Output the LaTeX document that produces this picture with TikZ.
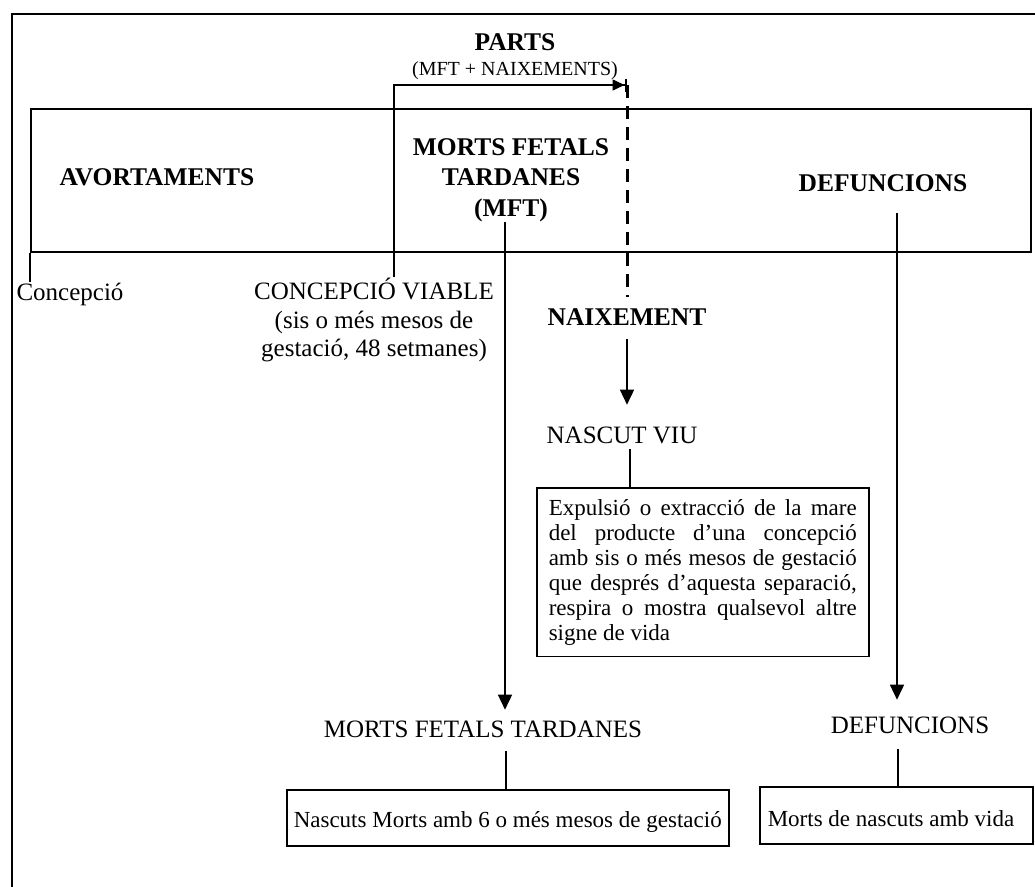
\documentclass[tikz,border=0pt]{standalone}
\usepackage{fontspec}
\setmainfont{Liberation Serif}
\usetikzlibrary{arrows.meta}
\newcommand\justline[1]{\makebox[308pt][s]{\spaceskip=\fontdimen2\font plus 1fil\relax #1}}
\newcommand\plainline[2]{\makebox[#1][l]{\spaceskip=\fontdimen2\font\relax #2}}
\begin{document}
\begin{tikzpicture}[x=1pt,y=-1pt,line width=1.5pt,
  lbl/.style={inner sep=0pt,font=\fontsize{25}{28.5}\selectfont},
  blbl/.style={inner sep=0pt,font=\fontsize{25.5}{30.5}\selectfont\bfseries},
  smalllbl/.style={inner sep=0pt,font=\fontsize{20}{24}\selectfont},
  boxtxt/.style={draw,font=\fontsize{23}{25}\selectfont},
  arr/.style={-{Triangle[length=15pt,width=14pt]}},
  partsarr/.style={-{Triangle[length=12pt,width=11pt,sep=0pt]Bar[width=13pt,line width=2.5pt]}},
  dashline/.style={line width=3pt,dash pattern=on 13pt off 8pt},
]
\useasboundingbox (0,0) rectangle (1035,886);
% outer frame
\coordinate (frameBL) at (12,890);
\coordinate (frameTL) at (12,14);
\coordinate (frameTR) at (1040,14);
\draw (frameBL) -- (frameTL) -- (frameTR);
% band
\node[draw,minimum width=1000pt,minimum height=143pt,inner sep=0pt,anchor=north west] (band) at (30,108) {};
% labels
\node[blbl,anchor=base] (avort) at (157,185) {AVORTAMENTS};
\node[blbl,anchor=base] (parts) at (515,50) {PARTS};
\node[smalllbl,anchor=base] (partsub) at (515,75) {(MFT + NAIXEMENTS)};
\node[blbl,align=center] (mft) at (511,180) {MORTS FETALS\\TARDANES\\(MFT)};
\node[blbl,anchor=base] (defun) at (883,191) {DEFUNCIONS};
\node[lbl,anchor=base] (concep) at (70,300) {Concepció};
\node[lbl,align=center] (cviab) at (374,320) {CONCEPCIÓ VIABLE\\(sis o més mesos de\\gestació, 48 setmanes)};
\node[blbl,anchor=base] (naix) at (627,325) {NAIXEMENT};
\node[lbl,anchor=base] (nascut) at (622,443) {NASCUT VIU};
\node[lbl,anchor=base] (mftlow) at (483,737) {MORTS FETALS TARDANES};
\node[lbl,anchor=base] (defunlow) at (910,733) {DEFUNCIONS};
% boxes
\node[boxtxt,anchor=north west,inner xsep=12pt,inner ysep=11.5pt,text width=308pt,align=left] (defbox) at (536,487)
 {\justline{Expulsió o extracció de la mare}\\
  \justline{del producte d’una concepció}\\
  \justline{amb sis o més mesos de gestació}\\
  \justline{que després d’aquesta separació,}\\
  \justline{respira o mostra qualsevol altre}\\
  \plainline{308pt}{signe de vida}};
\node[boxtxt,anchor=north west,minimum width=442pt,minimum height=56pt,inner xsep=7pt,text height=20pt,text depth=0pt] (nmbox) at (286,789) {Nascuts Morts amb 6 o més mesos de gestació};
\node[boxtxt,anchor=north west,minimum width=273pt,minimum height=57pt,inner xsep=8pt,text height=23pt,text depth=0pt] (nvbox) at (759,786) {\plainline{257pt}{Morts de nascuts amb vida}};
% connectors
\coordinate (partsend) at (627,85);
\draw (band.south west) -- (band.south west |- concep.north);
\draw[partsarr] ([xshift=20pt]cviab.north) |- (partsend);
\draw[dashline,shorten >=10pt] (partsend) -- (naix.north);
\draw[arr,shorten <=13pt,shorten >=21pt] (naix.south) -- (naix.south |- nascut.north);
\draw[shorten <=5pt] ([xshift=8pt]nascut.south) -- ([xshift=8pt]nascut.south |- defbox.north);
\draw[arr,shorten >=10pt] ([xshift=-6pt]mft.south) -- ([xshift=-6pt]mft.south |- mftlow.north);
\draw[shorten <=13pt] ([xshift=23pt]mftlow.south) -- ([xshift=23pt]mftlow.south |- nmbox.north);
\draw[arr,shorten <=21pt,shorten >=16pt] ([xshift=14pt]defun.south) -- ([xshift=14pt]defun.south |- defunlow.north);
\draw[shorten <=15pt] ([xshift=-12pt]defunlow.south) -- ([xshift=-12pt]defunlow.south |- nvbox.north);
\end{tikzpicture}
\end{document}
